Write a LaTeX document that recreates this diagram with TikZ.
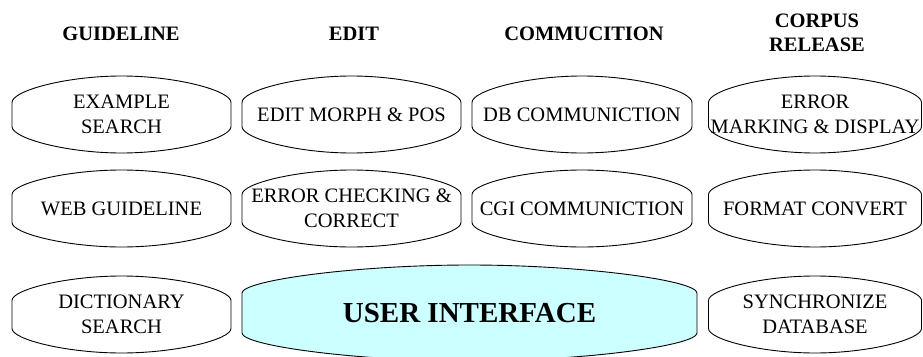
\documentclass[tikz,border=0pt]{standalone}
\usepackage{fontspec}
\setmainfont{Liberation Serif}
\pgfdeclarelayer{bg}
\pgfsetlayers{bg,main}
\definecolor{uicyan}{HTML}{CCFFFF}
\tikzset{
  blobline/.style={draw=black, line width=0.9pt},
  lbl/.style={font=\fontsize{20.5}{25}\selectfont, align=center, inner sep=0pt},
  head/.style={font=\bfseries\fontsize{20.5}{24}\selectfont, align=center, inner sep=0pt},
  bighead/.style={font=\bfseries\fontsize{29}{34}\selectfont, align=center, inner sep=0pt},
}
% #1 options, #2 node name, #3 half width, #4 half height, #5 half length of vertical side
\newcommand{\blob}[5][]{%
  \begin{pgfonlayer}{bg}
  \begin{scope}[shift={(#2.center)}]
    \path[blobline,#1] (-#3,#5)
      .. controls (-#3,{#5+0.45*(#4-#5)}) and ({-0.5*#3},#4) .. (0,#4)
      .. controls ({0.5*#3},#4) and (#3,{#5+0.45*(#4-#5)}) .. (#3,#5)
      -- (#3,-#5)
      .. controls (#3,{-#5-0.45*(#4-#5)}) and ({0.5*#3},-#4) .. (0,-#4)
      .. controls ({-0.5*#3},-#4) and (-#3,{-#5-0.45*(#4-#5)}) .. (-#3,-#5)
      -- cycle;
  \end{scope}
  \end{pgfonlayer}}
\begin{document}
\begin{tikzpicture}[x=1pt,y=-1pt]
  \useasboundingbox (0,0) rectangle (923,356);
  % headings
  \node[head] (hg) at (121,34) {GUIDELINE};
  \node[head] (he) at (354,34) {EDIT};
  \node[head] (hc) at (584,34) {COMMUCITION};
  \node[head] (hr) at (817,33) {CORPUS\\RELEASE};
  % row 1
  \node[lbl] (ex) at (121.5,114.5) {EXAMPLE\\SEARCH};
  \node[lbl] (em) at (351.5,114.5) {EDIT MORPH \& POS};
  \node[lbl] (db) at (582,114.5) {DB COMMUNICTION};
  \node[lbl] (er) at (815,114.5) {ERROR\\MARKING \& DISPLAY};
  % row 2
  \node[lbl] (wg) at (121.5,208.5) {WEB GUIDELINE};
  \node[lbl] (ec) at (351.5,208.5) {ERROR CHECKING \&\\CORRECT};
  \node[lbl] (cg) at (582,208.5) {CGI COMMUNICTION};
  \node[lbl] (fc) at (815,208.5) {FORMAT CONVERT};
  % row 3
  \node[lbl] (ds) at (121.5,314.5) {DICTIONARY\\SEARCH};
  \node[bighead] (ui) at (469.5,313) {USER INTERFACE};
  \node[lbl] (sd) at (815,314.5) {SYNCHRONIZE\\DATABASE};
  % shapes
  \blob{ex}{109.5}{38.5}{12}
  \blob{em}{109.5}{38.5}{12}
  \blob{db}{110}{38.5}{12}
  \blob{er}{106.5}{38.5}{12}
  \blob{wg}{109.5}{38.5}{14}
  \blob{ec}{109.5}{38.5}{14}
  \blob{cg}{110}{38.5}{14}
  \blob{fc}{106.5}{38.5}{14}
  \blob{ds}{109.5}{38.5}{14}
  \blob[fill=uicyan]{ui}{227.5}{48}{20}
  \blob{sd}{106.5}{38.5}{14}
\end{tikzpicture}
\end{document}
